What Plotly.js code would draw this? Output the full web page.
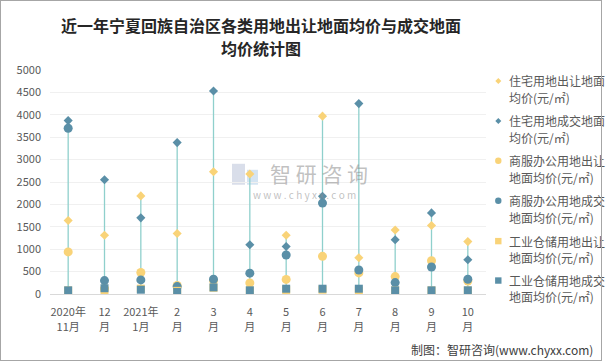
<!DOCTYPE html>
<html>
<head>
<meta charset="utf-8">
<script src="https://cdn.plot.ly/plotly-3.0.1.min.js"></script>
<style>
html,body{margin:0;padding:0;background:#fff;}
#wrap{position:relative;width:606px;height:363px;}
#chart{position:absolute;left:0;top:0;width:606px;height:363px;}
#frame{position:absolute;left:0;top:0;width:600px;height:359px;border:1px solid #a6a6a6;pointer-events:none;}
</style>
</head>
<body>
<div id="wrap"><div id="chart"></div><div id="frame"></div></div>
<script>
// ---- data ----
const categories = ['2020年11月','2020年12月','2021年1月','2021年2月','2021年3月','2021年4月','2021年5月','2021年6月','2021年7月','2021年8月','2021年9月','2021年10月'];
const tickLine1 = ['2020年','12','2021年','2','3','4','5','6','7','8','9','10'];
const tickLine2 = ['11月','月','1月','月','月','月','月','月','月','月','月','月'];
const resTransfer = [1640, 1310, 2190, 1350, 2730, 2680, 1310, 3970, 810, 1430, 1530, 1170];
const resDeal     = [3870, 2550, 1700, 3380, 4530, 1100, 1060, 2180, 4250, 1210, 1810, 765];
const comTransfer = [940, 120, 480, 190, 300, 248, 326, 840, 470, 388, 743, 290];
const comDeal     = [3700, 300, 315, 165, 330, 465, 870, 2030, 535, 255, 602, 330];
const indTransfer = [80, 70, 120, 70, 140, 80, 90, 95, 80, 80, 80, 80];
const indDeal     = [82, 129, 96, 44, 148, 82, 118, 118, 118, 82, 82, 82];
const seriesNames = ['住宅用地出让地面均价(元/㎡)','住宅用地成交地面均价(元/㎡)','商服办公用地出让地面均价(元/㎡)','商服办公用地成交地面均价(元/㎡)','工业仓储用地出让地面均价(元/㎡)','工业仓储用地成交地面均价(元/㎡)'];
const legendLines = [['住宅用地出让地面','均价(元/㎡)'],['住宅用地成交地面','均价(元/㎡)'],['商服办公用地出让','地面均价(元/㎡)'],['商服办公用地成交','地面均价(元/㎡)'],['工业仓储用地出让','地面均价(元/㎡)'],['工业仓储用地成交','地面均价(元/㎡)']];
const titleLines = ['近一年宁夏回族自治区各类用地出让地面均价与成交地面','均价统计图'];

const YEL = '#F9D378', DARK = '#5A8FA7', LINE = '#8FD0CC';
const FONT = '"Noto Sans CJK SC", "Microsoft YaHei", sans-serif';

// ---- geometry helpers (pixel -> paper) ----
const W=606, H=363, ML=50, MR=120, MT=70, MB=68.5;
const PW=W-ML-MR, PH=H-MT-MB;
const px = x => (x-ML)/PW;
const py = y => (H-MB-y)/PH;

const all = [resTransfer,resDeal,comTransfer,comDeal,indTransfer,indDeal];
// high-low lines
const hlX=[], hlY=[];
categories.forEach((c,i)=>{
  const vals = all.map(s=>s[i]);
  hlX.push(c,c,null);
  hlY.push(Math.min(...vals),Math.max(...vals),null);
});

const specs = [
  {d:resTransfer, color:YEL, symbol:'diamond', size:7},
  {d:resDeal, color:DARK, symbol:'diamond', size:7},
  {d:comTransfer, color:YEL, symbol:'circle', size:9},
  {d:comDeal, color:DARK, symbol:'circle', size:9},
  {d:indTransfer, color:YEL, symbol:'square', size:8},
  {d:indDeal, color:DARK, symbol:'square', size:8},
];

const traces = [{x:hlX, y:hlY, mode:'lines', line:{color:LINE,width:1.3}, hoverinfo:'skip', showlegend:false, connectgaps:false}];
specs.forEach((s,k)=>{
  traces.push({x:categories, y:s.d, name:seriesNames[k], mode:'markers', type:'scatter',
    marker:{color:s.color, symbol:s.symbol, size:s.size, line:{width:0}}, showlegend:false});
});

// legend built with shapes + annotations
const legY = [81,121,161,201,241.5,281];
const legY2 = [97.7,137.7,177.7,217.7,258.3,297];
const shapes = [];
const annotations = [];
const mx = 498.3;
specs.forEach((s,k)=>{
  const base = {type:'path', xref:'paper', yref:'paper', xsizemode:'pixel', ysizemode:'pixel', xanchor:px(mx), yanchor:py(legY[k]), fillcolor:s.color, line:{width:0}};
  if(s.symbol==='diamond') shapes.push(Object.assign({}, base, {path:'M0,3 L3,0 L0,-3 L-3,0 Z'}));
  else if(s.symbol==='circle') shapes.push(Object.assign({}, base, {type:'circle', x0:-3.2, x1:3.2, y0:-3.2, y1:3.2}));
  else shapes.push(Object.assign({}, base, {type:'rect', x0:-3.2, x1:3.2, y0:-3.2, y1:3.2}));
  annotations.push({xref:'paper', yref:'paper', x:px(506.5), y:py(legY[k]), xanchor:'left', yanchor:'middle', showarrow:false, text:legendLines[k][0], font:{family:FONT,size:12,color:'#595959'}});
  annotations.push({xref:'paper', yref:'paper', x:px(506.5), y:py(legY2[k]), xanchor:'left', yanchor:'middle', showarrow:false, text:legendLines[k][1], font:{family:FONT,size:12,color:'#595959'}});
});

// title second line
annotations.push({xref:'paper', yref:'paper', x:px(261), y:py(48), xanchor:'center', yanchor:'middle', showarrow:false, text:titleLines[1], font:{family:FONT,size:16,color:'#262626',weight:'bold'}});

// watermark
shapes.push({type:'rect', xref:'paper', yref:'paper', x0:px(232), x1:px(245), y0:py(185), y1:py(164), fillcolor:'rgba(170,182,208,0.45)', line:{width:0}, layer:'below'});
shapes.push({type:'rect', xref:'paper', yref:'paper', x0:px(247), x1:px(258), y0:py(185), y1:py(170), fillcolor:'rgba(160,196,226,0.45)', line:{width:0}, layer:'below'});
annotations.push({xref:'paper', yref:'paper', x:px(319), y:py(173), xanchor:'center', yanchor:'middle', showarrow:false, text:'智 研 咨 询', font:{family:FONT,size:21,color:'rgba(140,140,140,0.55)'}});
annotations.push({xref:'paper', yref:'paper', x:px(304), y:py(195), xanchor:'center', yanchor:'middle', showarrow:false, text:'w w w . c h y x x . c o m', font:{family:FONT,size:10,color:'rgba(140,140,140,0.55)'}});
// footer
annotations.push({xref:'paper', yref:'paper', x:px(595), y:py(350), xanchor:'right', yanchor:'middle', showarrow:false, text:'制图：智研咨询(www.chyxx.com)', font:{family:FONT,size:12,color:'#404040'}});

const tickIdx = categories.map((c,i)=>i);
const layout = {
  width:W, height:H,
  margin:{l:ML, r:MR, t:MT, b:MB, pad:0},
  paper_bgcolor:'rgba(0,0,0,0)', plot_bgcolor:'rgba(0,0,0,0)',
  title:{text:titleLines[0], x:px(261), xref:'paper', xanchor:'center', y:1-26/H, yref:'container', yanchor:'middle',
    font:{family:FONT, size:16, color:'#262626', weight:'bold'}},
  showlegend:false,
  xaxis:{type:'category', range:[-0.5,11.5], tickmode:'array', tickvals:categories, ticktext:tickLine1, showgrid:false, showline:true, linecolor:'#d9d9d9', linewidth:1, ticks:'', ticklabelstandoff:8, tickfont:{family:FONT,size:11,color:'#595959'}, fixedrange:true},
  xaxis2:{overlaying:'x', side:'bottom', anchor:'y', range:[-0.5,11.5], tickmode:'array', tickvals:tickIdx, ticktext:tickLine2, showgrid:false, showline:false, zeroline:false, ticks:'', ticklabelstandoff:25, tickfont:{family:FONT,size:11,color:'#595959'}, fixedrange:true},
  yaxis:{range:[0,5000], dtick:500, tick0:0, showgrid:true, gridcolor:'#f0f0f0', gridwidth:1, zeroline:false, showline:false, ticks:'', ticklabelstandoff:8, tickfont:{family:FONT,size:11,color:'#595959'}, fixedrange:true},
  shapes:shapes,
  annotations:annotations
};
// dummy empty trace to activate xaxis2
traces.push({x:[], y:[], xaxis:'x2', yaxis:'y', mode:'markers', showlegend:false, hoverinfo:'skip'});

Plotly.newPlot('chart', traces, layout, {displayModeBar:false, staticPlot:true});
</script>
</body>
</html>
